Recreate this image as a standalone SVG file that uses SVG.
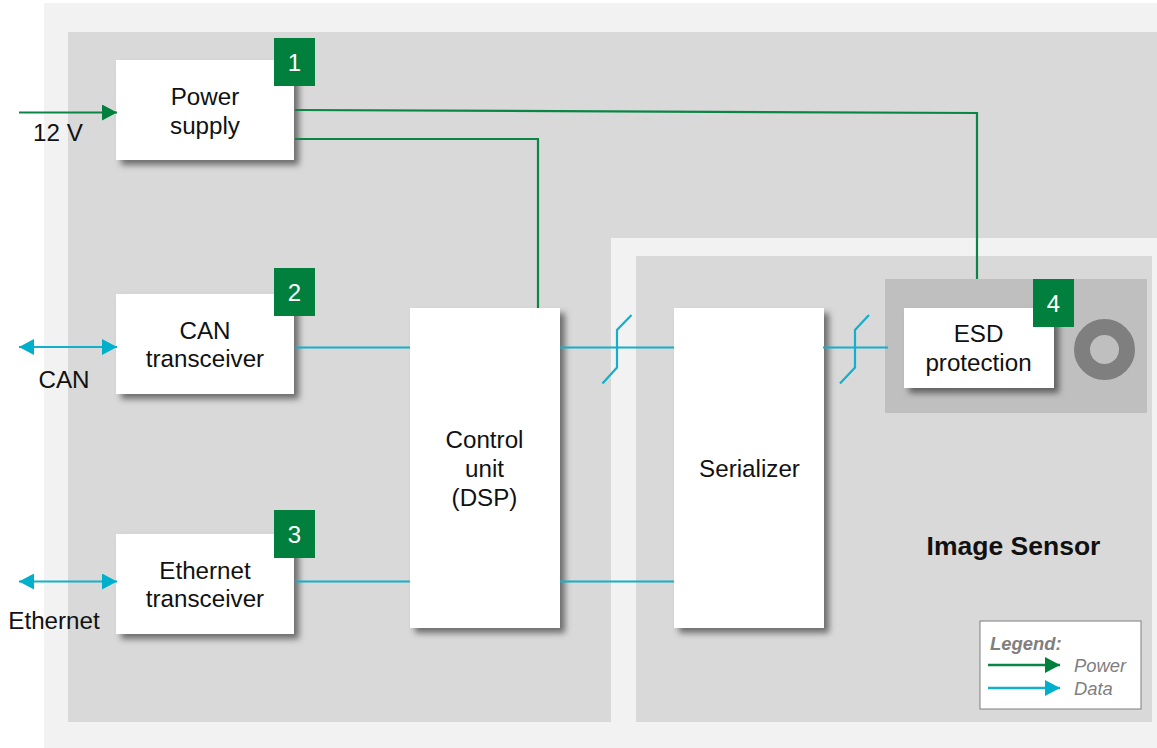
<svg xmlns="http://www.w3.org/2000/svg" width="1157" height="748" viewBox="0 0 1157 748">
<style>
text{font-family:"Liberation Sans",Arial,sans-serif;font-size:24.200px;fill:#111;text-anchor:middle}
.box{fill:#fff;filter:url(#sh)}
.badge{fill:#007f3d}
text.num{fill:#fff;font-size:24px}
.p{fill:none;stroke:#0b8545;stroke-width:2.200}
.d{fill:none;stroke:#12b0cc;stroke-width:2.200}
text.leg{font-size:18.400px;font-style:italic;fill:#7f7f7f;text-anchor:start}
</style>
<defs>
<filter id="sh" x="-20%" y="-20%" width="140%" height="140%"><feDropShadow dx="5" dy="5" stdDeviation="3" flood-color="#000" flood-opacity="0.5"/></filter>
<marker id="ag" markerUnits="userSpaceOnUse" markerWidth="16" markerHeight="16" refX="15" refY="8" orient="auto-start-reverse"><path d="M0 0L15 8L0 16Z" fill="#007f3d"/></marker>
<marker id="ad" markerUnits="userSpaceOnUse" markerWidth="16" markerHeight="16" refX="15" refY="8" orient="auto-start-reverse"><path d="M0 0L15 8L0 16Z" fill="#00afca"/></marker>
</defs>
<g id="background">
<rect x="44" y="3" width="1113" height="745" fill="#f2f2f2"/>
<path d="M68 32H1157V238H611V722H68Z" fill="#d9d9d9"/>
<rect x="636" y="256" width="516" height="466" fill="#d9d9d9"/>
<rect x="885" y="279" width="262" height="134" fill="#bfbfbf"/>
<circle cx="1104.500" cy="349.500" r="22.500" fill="none" stroke="#7f7f7f" stroke-width="16"/>
<text x="1013.500" y="555" font-weight="700" style="font-size:26.500px">Image Sensor</text>
</g>
<g id="power-supply">
<rect class="box" x="116" y="60" width="178" height="100"/>
<rect class="badge" x="274" y="38" width="41" height="48"/>
<text class="num" x="294.500" y="71">1</text>
<text x="205" y="105">Power</text>
<text x="205" y="134">supply</text>
</g>
<g id="can-transceiver">
<rect class="box" x="116" y="294" width="178" height="100"/>
<rect class="badge" x="274" y="268" width="41" height="48"/>
<text class="num" x="294.500" y="301">2</text>
<text x="205" y="339">CAN</text>
<text x="205" y="367">transceiver</text>
</g>
<g id="ethernet-transceiver">
<rect class="box" x="116" y="534" width="178" height="100"/>
<rect class="badge" x="274" y="510" width="41" height="48"/>
<text class="num" x="294.500" y="543">3</text>
<text x="205" y="579">Ethernet</text>
<text x="205" y="607">transceiver</text>
</g>
<g id="control-unit">
<rect class="box" x="410" y="308" width="150" height="320"/>
<text x="484.500" y="448">Control</text>
<text x="484.500" y="477">unit</text>
<text x="484.500" y="506">(DSP)</text>
</g>
<g id="serializer">
<rect class="box" x="674" y="308" width="150" height="320"/>
<text x="749.500" y="477">Serializer</text>
</g>
<g id="esd-protection">
<rect class="box" x="904" y="308" width="150" height="80"/>
<rect class="badge" x="1033" y="279" width="41" height="48"/>
<text class="num" x="1053.500" y="312">4</text>
<text x="978.500" y="342">ESD</text>
<text x="978.500" y="371">protection</text>
</g>
<g id="connectors">
<path class="p" d="M19 112.500H117" marker-end="url(#ag)"/>
<path class="p" d="M295 110L977 113V279"/>
<path class="p" d="M295 139H538V308"/>
<path class="d" d="M19 347H117" marker-start="url(#ad)" marker-end="url(#ad)"/>
<path class="d" d="M19 581.500H117" marker-start="url(#ad)" marker-end="url(#ad)"/>
<path class="d" d="M295 347.500H410"/>
<path class="d" d="M295 581.500H410"/>
<path class="d" d="M560 347.500H674"/>
<path class="d" d="M560 581.500H674"/>
<path class="d" d="M823 347.500H888"/>
<path class="d" d="M631.500 315L617 330V367.500L602.500 383.500"/>
<path class="d" d="M869 315L855 330V367.500L840 383.500"/>
</g>
<g id="external-labels">
<text x="58" y="141">12 V</text>
<text x="64" y="388">CAN</text>
<text x="54" y="629">Ethernet</text>
</g>
<g id="legend">
<rect x="980" y="621" width="161" height="88" fill="#fff" stroke="#7f7f7f" stroke-width="1"/>
<text class="leg" x="990" y="650" font-weight="700">Legend:</text>
<path class="p" d="M988 665H1060" marker-end="url(#ag)" style="stroke-width:2.600"/>
<path class="d" d="M988 688H1060" marker-end="url(#ad)" style="stroke-width:2.600"/>
<text class="leg" x="1074" y="672">Power</text>
<text class="leg" x="1074" y="695">Data</text>
</g>
</svg>
